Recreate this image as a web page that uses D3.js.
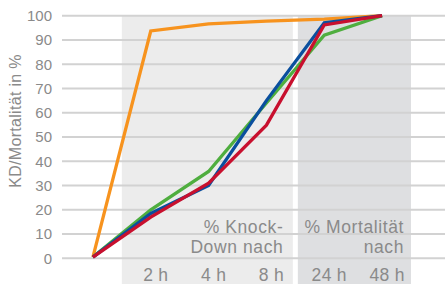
<!DOCTYPE html>
<html>
<head>
<meta charset="utf-8">
<script src="https://cdnjs.cloudflare.com/ajax/libs/d3/7.8.5/d3.min.js"></script>
<style>
    body { margin: 0; background: #fff; }
    svg { display: block; font-family: "Liberation Sans", Arial, sans-serif; }
    .grid line { stroke: #d2d2d2; stroke-width: 2; }
    .lbl { fill: #8a8a8a; }
</style>
</head>
<body>
<div id="chart"></div>
<script>
var categories = ['0', '2 h', '4 h', '8 h', '24 h', '48 h'];
var tickLabels = ['', '2 h', '4 h', '8 h', '24 h', '48 h'];
var yTicks = [0, 10, 20, 30, 40, 50, 60, 70, 80, 90, 100];

var orange = [0.5, 93.7, 96.6, 97.8, 98.6, 100];
var blue = [0.5, 18.5, 30.0, 65.0, 97.1, 100];
var green = [0.5, 20.0, 35.8, 64.0, 92.0, 100];
var red = [0.5, 17.0, 31.0, 54.9, 96.2, 100];

var series = [
    { name: 'orange', color: '#f7931e', values: orange },
    { name: 'green', color: '#4fae3f', values: green },
    { name: 'blue', color: '#0a4f9e', values: blue },
    { name: 'red', color: '#c8102e', values: red }
];

var width = 445;
var height = 284;

var svg = d3.select('#chart').append('svg')
    .attr('width', width)
    .attr('height', height);

var x = d3.scaleBand().domain(categories).range([64, 411]).paddingInner(0).paddingOuter(0);
var y = d3.scaleLinear().domain([0, 100]).range([258.3, 15.7]);

var cx = function(c) {
    return x(c) + x.bandwidth() / 2;
};

// shaded background zones
var gap = 2.5;
svg.append('rect')
    .attr('x', x('2 h'))
    .attr('y', y(100))
    .attr('width', x('24 h') - x('2 h') - gap)
    .attr('height', height - y(100))
    .attr('fill', '#ececec');

svg.append('rect')
    .attr('x', x('24 h') + gap)
    .attr('y', y(100))
    .attr('width', x('48 h') + x.bandwidth() - x('24 h') - gap)
    .attr('height', height - y(100))
    .attr('fill', '#dedfe1');

// gridlines
svg.append('g').attr('class', 'grid')
    .selectAll('line').data(yTicks).enter()
    .append('line')
    .attr('x1', 62)
    .attr('x2', width)
    .attr('y1', function(d) { return y(d); })
    .attr('y2', function(d) { return y(d); });

// y axis labels
svg.append('g')
    .selectAll('text').data(yTicks).enter()
    .append('text')
    .attr('class', 'lbl')
    .attr('x', 52)
    .attr('y', function(d) { return y(d); })
    .attr('dy', '0.36em')
    .attr('text-anchor', 'end')
    .style('font-size', '15px')
    .text(function(d) { return d; });

svg.append('text')
    .attr('class', 'lbl')
    .attr('transform', 'translate(21,' + ((y(0) + y(100)) / 2 - 16) + ') rotate(-90)')
    .attr('text-anchor', 'middle')
    .style('font-size', '16px')
    .style('letter-spacing', '0.3px')
    .text('KD/Mortalität in %');

// x labels
svg.append('g')
    .selectAll('text').data(categories).enter()
    .append('text')
    .attr('class', 'lbl')
    .attr('x', function(d) { return cx(d) + 5; })
    .attr('y', 280.5)
    .attr('text-anchor', 'middle')
    .style('font-size', '17.5px')
    .style('letter-spacing', '0.3px')
    .text(function(d, i) { return tickLabels[i]; });

// zone captions
var caption = function(lines, xEnd) {
    svg.append('g').selectAll('text').data(lines).enter()
        .append('text')
        .attr('class', 'lbl')
        .attr('x', xEnd)
        .attr('y', function(d, i) { return 233 + i * 20; })
        .attr('text-anchor', 'end')
        .style('font-size', '17.5px')
        .style('letter-spacing', '0.6px')
        .text(function(d) { return d; });
};
caption(['% Knock-', 'Down nach'], x('24 h') - 12);
caption(['% Mortalität', 'nach'], x('48 h') + x.bandwidth() - 7);

// lines
var line = d3.line()
    .x(function(d, i) { return cx(categories[i]); })
    .y(function(d) { return y(d); });

svg.append('g')
    .selectAll('path').data(series).enter()
    .append('path')
    .attr('d', function(s) { return line(s.values); })
    .attr('fill', 'none')
    .attr('stroke', function(s) { return s.color; })
    .attr('stroke-width', 3.3)
    .attr('stroke-linejoin', 'miter');
</script>
</body>
</html>
